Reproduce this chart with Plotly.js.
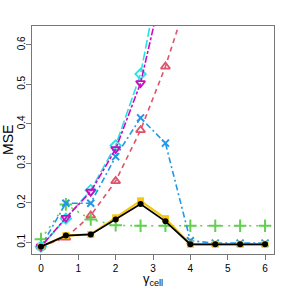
<!DOCTYPE html>
<html><head><meta charset="utf-8">
<script src="https://cdn.plot.ly/plotly-3.0.1.min.js"></script>
<style>html,body{margin:0;padding:0;background:#fff}#c{width:288px;height:288px}</style>
</head><body><div id="c"></div>
<script>
const gammaCell = [0, 0.667, 1.333, 2, 2.667, 3.333, 4, 4.667, 5.333, 6];
const mseRed     = [0.089, 0.112, 0.168, 0.255, 0.384, 0.545, 0.741, 0.97, 1.23, 1.52];
const mseGreen   = [0.108, 0.196, 0.158, 0.143, 0.142, 0.142, 0.142, 0.142, 0.142, 0.142];
const mseBlue    = [0.089, 0.199, 0.199, 0.317, 0.415, 0.351, 0.104, 0.098, 0.098, 0.098];
const mseCyan    = [0.089, 0.160, 0.232, 0.345, 0.526, 0.85, 1.2, 1.6, 2.0, 2.5];
const mseMagenta = [0.089, 0.162, 0.228, 0.336, 0.503, 0.75, 1.05, 1.4, 1.8, 2.2];
const mseGold    = [0.089, 0.117, 0.120, 0.162, 0.205, 0.160, 0.095, 0.095, 0.095, 0.095];
const mseBlack   = [0.089, 0.117, 0.120, 0.158, 0.197, 0.153, 0.095, 0.095, 0.095, 0.095];

function tr(y, color, dash, sym, msize, lw, mlw){
  return {x: gammaCell, y: y, type:'scatter', mode:'lines+markers', cliponaxis:true,
    line:{color:color, dash:dash, width:lw},
    marker:{symbol:sym, size:msize, color:color, line:{color:color, width:mlw}}};
}
const data = [
  tr(mseRed, '#DF536B', '5px,4px', 'triangle-up-open', 8, 1.6, 1.8),
  tr(mseGreen, '#61D04F', '2px,5px', 'cross-thin-open', 9, 1.6, 2),
  tr(mseBlue, '#2297E6', '6px,3px,2px,3px', 'x-thin-open', 7, 1.6, 2),
  tr(mseCyan, '#28E2E5', '9px,3px', 'diamond-open', 8, 1.6, 1.8),
  tr(mseMagenta, '#CD0BBC', '3px,2px,7px,2px', 'triangle-down-open', 8, 1.6, 1.8),
  tr(mseGold, '#F5C710', 'solid', 'square', 7, 2.2, 0),
  tr(mseBlack, '#000000', 'solid', 'circle', 6, 1.8, 0)
];
const layout = {
  width:288, height:288, showlegend:false,
  paper_bgcolor:'#fff', plot_bgcolor:'#fff',
  margin:{l:32, r:14, t:26, b:34},
  font:{family:'Liberation Sans, Arial, sans-serif', size:10, color:'#000'},
  xaxis:{range:[-0.24,6.24], tickvals:[0,1,2,3,4,5,6], ticks:'outside', ticklen:5, tickcolor:'#777',
    showline:true, linecolor:'#777', mirror:true, showgrid:false, zeroline:false,
    title:{text:'γ<sub>cell</sub>', font:{size:13}, standoff:0}},
  yaxis:{range:[0.0704,0.6476], tickvals:[0.1,0.2,0.3,0.4,0.5,0.6], ticktext:['0.1','0.2','0.3','0.4','0.5','0.6'],
    tickangle:-90, ticks:'outside', ticklen:5, tickcolor:'#777', ticklabelstandoff:-3,
    showline:true, linecolor:'#777', mirror:true, showgrid:false, zeroline:false},
  annotations:[{text:'MSE', xref:'paper', yref:'paper', x:0, y:0.5, xanchor:'center', yanchor:'middle',
    xshift:-24, textangle:-90, showarrow:false, font:{size:14}}]
};
Plotly.newPlot('c', data, layout, {staticPlot:true, displayModeBar:false});
</script></body></html>
